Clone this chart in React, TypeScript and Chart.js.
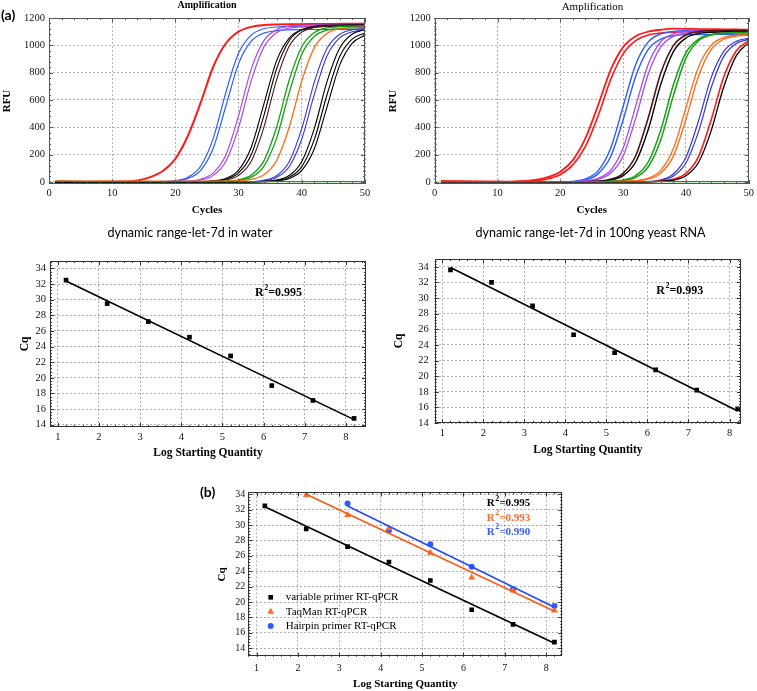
import React, { useEffect, useRef } from 'react';
import { Chart, registerables } from 'chart.js';

Chart.register(...registerables);

const SERIF = '"Liberation Serif", "Times New Roman", serif';
const SANS = 'Lato, "Open Sans", sans-serif';

// ---------- amplification data (RFU read at these cycles) ----------
const CYCLES = [1, 6, 12, 14, 16, 18, 20, 22, 24, 26, 28, 30, 32, 34, 36, 38, 40, 42, 44, 46, 48, 50];
const CYCLE_TICKS = [0, 10, 20, 30, 40, 50];
const RFU_TICKS = [0, 200, 400, 600, 800, 1000, 1200];
const LOG_TICKS = [1, 2, 3, 4, 5, 6, 7, 8];
const CQ_TICKS = [14, 16, 18, 20, 22, 24, 26, 28, 30, 32, 34];

// let-7d in water
const W_RED = [4, 2, 3, 10, 35, 80, 170, 340, 580, 845, 1015, 1100, 1135, 1148, 1153, 1155, 1155, 1156, 1156, 1157, 1157, 1157];
const W_BLUE_A = [-3, -3, -2, -1, 1, 4, 10, 35, 115, 321, 658, 943, 1075, 1121, 1134, 1139, 1140, 1140, 1141, 1141, 1142, 1142];
const W_BLUE_B = [-4, -4, -3, -2, 0, 2, 7, 26, 85, 249, 558, 866, 1030, 1089, 1107, 1113, 1115, 1116, 1116, 1117, 1117, 1118];
const W_PURPLE_A = [2, 1, 1, 1, 1, 1, 2, 6, 20, 66, 199, 486, 826, 1034, 1114, 1140, 1147, 1149, 1150, 1150, 1151, 1151];
const W_PURPLE_B = [1, 0, 0, 0, 0, 1, 1, 4, 14, 48, 152, 398, 742, 988, 1092, 1126, 1135, 1139, 1140, 1140, 1141, 1141];
const W_DARK_A = [0, 0, 0, 0, 0, 0, 0, 1, 2, 8, 26, 87, 254, 570, 886, 1053, 1114, 1132, 1138, 1140, 1140, 1140];
const W_DARK_B = [0, 0, 0, 0, 0, 0, 0, 1, 2, 6, 20, 66, 199, 486, 826, 1034, 1114, 1140, 1147, 1149, 1150, 1150];
const W_MAROON = [0, 0, 0, 0, 0, 0, 0, 0, 1, 4, 14, 48, 152, 400, 745, 993, 1097, 1131, 1140, 1144, 1145, 1145];
const W_GREEN_A = [2, 2, 2, 2, 2, 2, 2, 2, 2, 3, 6, 16, 50, 154, 400, 744, 990, 1094, 1128, 1137, 1141, 1142];
const W_GREEN_B = [1, 1, 1, 1, 1, 1, 1, 1, 1, 2, 3, 10, 35, 114, 319, 652, 935, 1066, 1111, 1124, 1128, 1130];
const W_ORANGE = [6, 5, 5, 5, 5, 5, 5, 5, 5, 5, 6, 9, 19, 52, 155, 400, 740, 985, 1088, 1122, 1131, 1134];
const W_INDIGO_A = [-3, -3, -3, -3, -3, -3, -3, -3, -3, -3, -2, 0, 2, 12, 45, 148, 392, 734, 978, 1081, 1114, 1123];
const W_INDIGO_B = [-2, -2, -2, -2, -2, -2, -2, -2, -2, -2, -2, -1, 1, 8, 33, 111, 314, 644, 924, 1054, 1099, 1112];
const W_LATE_A = [0, 0, 0, 0, 0, 0, 0, 0, 0, 0, 0, 0, 1, 4, 14, 47, 150, 394, 736, 980, 1083, 1116];
const W_LATE_B = [0, 0, 0, 0, 0, 0, 0, 0, 0, 0, 0, 0, 0, 3, 10, 34, 112, 313, 640, 918, 1047, 1091];
const W_LATE_C = [0, 0, 0, 0, 0, 0, 0, 0, 0, 0, 0, 0, 0, 2, 7, 25, 84, 245, 550, 855, 1016, 1075];
const W_NTC = [4, 3, 3, 3, 3, 3, 3, 3, 3, 3, 3, 3, 3, 3, 3, 3, 3, 3, 3, 3, 3, 3];

// let-7d in 100ng yeast RNA
const Y_RED_A = [8, 4, 3, 6, 15, 35, 75, 160, 320, 560, 819, 987, 1067, 1100, 1114, 1122, 1121, 1119, 1118, 1117, 1116, 1115];
const Y_RED_B = [6, 3, 2, 4, 8, 22, 55, 125, 260, 482, 747, 937, 1034, 1075, 1090, 1096, 1099, 1100, 1100, 1100, 1100, 1100];
const Y_BLUE_A = [-3, -3, -3, -3, -3, -2, -1, 4, 23, 81, 245, 552, 860, 1025, 1084, 1102, 1108, 1110, 1110, 1111, 1111, 1111];
const Y_BLUE_B = [-4, -4, -4, -4, -4, -3, -2, 2, 15, 59, 184, 454, 773, 970, 1046, 1070, 1077, 1079, 1080, 1080, 1080, 1080];
const Y_PURPLE_A = [2, 1, 1, 1, 1, 1, 1, 2, 7, 26, 84, 248, 555, 862, 1026, 1084, 1102, 1108, 1110, 1110, 1110, 1110];
const Y_PURPLE_B = [1, 1, 1, 1, 1, 1, 1, 1, 5, 19, 63, 190, 465, 790, 989, 1066, 1090, 1097, 1100, 1100, 1100, 1100];
const Y_MAROON = [0, 0, 0, 0, 0, 0, 0, 0, 2, 6, 19, 63, 192, 470, 797, 998, 1076, 1100, 1107, 1109, 1110, 1110];
const Y_DARK = [0, 0, 0, 0, 0, 0, 0, 0, 1, 4, 14, 46, 146, 384, 716, 954, 1054, 1087, 1096, 1099, 1100, 1100];
const Y_GREEN_A = [1, 1, 1, 1, 1, 1, 1, 1, 1, 2, 5, 15, 47, 146, 381, 711, 946, 1045, 1078, 1087, 1090, 1091];
const Y_GREEN_B = [1, 1, 1, 1, 1, 1, 1, 1, 1, 1, 3, 10, 34, 111, 309, 632, 906, 1033, 1076, 1090, 1094, 1095];
const Y_ORANGE_A = [4, 3, 3, 3, 3, 3, 3, 3, 3, 3, 3, 5, 10, 28, 85, 244, 543, 842, 1000, 1057, 1074, 1080];
const Y_ORANGE_B = [3, 3, 3, 3, 3, 3, 3, 3, 3, 3, 3, 4, 8, 21, 64, 189, 458, 774, 968, 1044, 1067, 1075];
const Y_INDIGO_A = [-3, -3, -3, -3, -3, -3, -3, -3, -3, -3, -3, -3, -2, 2, 15, 58, 181, 447, 762, 954, 1029, 1052];
const Y_INDIGO_B = [-2, -2, -2, -2, -2, -2, -2, -2, -2, -2, -2, -2, -1, 2, 11, 43, 139, 368, 688, 917, 1013, 1045];
const Y_LATE_RED = [2, 2, 2, 2, 2, 2, 2, 2, 2, 2, 2, 2, 2, 2, 7, 20, 63, 186, 452, 767, 959, 1034];
const Y_LATE_BLACK = [0, 0, 0, 0, 0, 0, 0, 0, 0, 0, 0, 0, 0, 1, 4, 13, 45, 142, 372, 693, 923, 1020];
const Y_NTC = [3, 2, 2, 2, 2, 2, 2, 2, 2, 2, 2, 2, 2, 2, 2, 2, 2, 2, 2, 2, 2, 2];

// ---------- standard curves ----------
const LOG_QTY = [1.2, 2.2, 3.2, 4.2, 5.2, 6.2, 7.2, 8.2];
const CQ_WATER = [32.5, 29.5, 27.2, 25.2, 22.8, 19.0, 17.1, 14.8];
const CQ_YEAST = [33.6, 32.0, 29.0, 25.3, 23.0, 20.8, 18.2, 15.8];
const LOG_QTY_TAQMAN = [2.2, 3.2, 4.2, 5.2, 6.2, 7.2, 8.2];
const CQ_TAQMAN = [33.9, 31.3, 29.6, 26.4, 23.2, 21.5, 18.9];
const LOG_QTY_HAIRPIN = [3.2, 4.2, 5.2, 6.2, 7.2, 8.2];
const CQ_HAIRPIN = [32.8, 29.3, 27.5, 24.6, 21.7, 19.5];
const R2_WATER = '0.995';
const R2_YEAST = '0.993';
const R2_COMPARE = ['0.995', '0.993', '0.990'];
const SERIES_NAMES = ['variable primer RT-qPCR', 'TaqMan RT-qPCR', 'Hairpin primer RT-qPCR'];

const C_RED = '#ff1a1a';
const C_BLUE = '#2a5cff';
const C_PURPLE = '#a84ae6';
const C_MAROON = '#561418';
const C_GREEN = '#16a016';
const C_ORANGE = '#ff6a14';
const C_INDIGO = '#3636d8';
const C_BLACK = '#000000';

const toPts = (xs: number[], ys: number[]) => xs.map((x, i) => ({ x, y: ys[i] }));

function fitLine(xs: number[], ys: number[]) {
  const n = xs.length;
  const mx = xs.reduce((a, b) => a + b, 0) / n;
  const my = ys.reduce((a, b) => a + b, 0) / n;
  let sxy = 0;
  let sxx = 0;
  for (let i = 0; i < n; i++) {
    sxy += (xs[i] - mx) * (ys[i] - my);
    sxx += (xs[i] - mx) * (xs[i] - mx);
  }
  const k = sxy / sxx;
  const b = my - k * mx;
  return [
    { x: xs[0], y: b + k * xs[0] },
    { x: xs[n - 1], y: b + k * xs[n - 1] },
  ];
}

type Item = { text?: string; x: number; y: number; font?: string; color?: string; align?: CanvasTextAlign; r2?: string; size?: number };

function textPlugin(items: Item[]) {
  return {
    id: 'texts',
    afterDraw(chart: any) {
      const ctx = chart.ctx as CanvasRenderingContext2D;
      items.forEach((it) => {
        ctx.save();
        ctx.fillStyle = it.color || '#000';
        ctx.textBaseline = 'middle';
        if (it.r2 !== undefined) {
          const size = it.size || 12;
          const base = `bold ${size}px ${SERIF}`;
          const sup = `bold ${Math.round(size * 0.7)}px ${SERIF}`;
          let x = it.x;
          ctx.textAlign = 'left';
          ctx.font = base;
          ctx.fillText('R', x, it.y);
          x += ctx.measureText('R').width;
          ctx.font = sup;
          ctx.fillText('2', x + 0.5, it.y - size * 0.42);
          x += ctx.measureText('2').width + 0.5;
          ctx.font = base;
          ctx.fillText('=' + it.r2, x, it.y);
        } else {
          ctx.font = it.font || `12px ${SERIF}`;
          ctx.textAlign = it.align || 'left';
          ctx.fillText(it.text || '', it.x, it.y);
        }
        ctx.restore();
      });
    },
  };
}

type FrameOpts = { xMajor: number; xMinor: number; yMajor: number; yMinor: number; color: string; major: number; minor: number };

function framePlugin(f: FrameOpts) {
  return {
    id: 'frame',
    afterDatasetsDraw(chart: any) {
      const { ctx, chartArea: a, scales } = chart;
      const xs = scales.x;
      const ys = scales.y;
      ctx.save();
      ctx.strokeStyle = f.color;
      ctx.lineWidth = 1;
      ctx.setLineDash([]);
      ctx.beginPath();
      const tick = (scale: any, step: number, len: number, horizontal: boolean) => {
        const i0 = Math.ceil(scale.min / step - 1e-9);
        const i1 = Math.floor(scale.max / step + 1e-9);
        for (let i = i0; i <= i1; i++) {
          const p = Math.round(scale.getPixelForValue(i * step)) + 0.5;
          if (horizontal) {
            ctx.moveTo(p, a.bottom);
            ctx.lineTo(p, a.bottom - len);
            ctx.moveTo(p, a.top);
            ctx.lineTo(p, a.top + len);
          } else {
            ctx.moveTo(a.left, p);
            ctx.lineTo(a.left + len, p);
            ctx.moveTo(a.right, p);
            ctx.lineTo(a.right - len, p);
          }
        }
      };
      tick(xs, f.xMinor, f.minor, true);
      tick(xs, f.xMajor, f.major, true);
      tick(ys, f.yMinor, f.minor, false);
      tick(ys, f.yMajor, f.major, false);
      ctx.stroke();
      ctx.strokeRect(Math.round(a.left) + 0.5, Math.round(a.top) + 0.5, Math.round(a.right - a.left) - 1, Math.round(a.bottom - a.top) - 1);
      ctx.restore();
    },
  };
}

function drawMarker(ctx: CanvasRenderingContext2D, style: string, x: number, y: number, r: number, color: string) {
  ctx.save();
  ctx.fillStyle = color;
  ctx.beginPath();
  if (style === 'rect') {
    const s = Math.SQRT1_2 * r;
    ctx.rect(x - s, y - s, 2 * s, 2 * s);
  } else if (style === 'triangle') {
    let rad = 0;
    ctx.moveTo(x + Math.sin(rad) * r, y - Math.cos(rad) * r);
    rad += (2 * Math.PI) / 3;
    ctx.lineTo(x + Math.sin(rad) * r, y - Math.cos(rad) * r);
    rad += (2 * Math.PI) / 3;
    ctx.lineTo(x + Math.sin(rad) * r, y - Math.cos(rad) * r);
    ctx.closePath();
  } else {
    ctx.arc(x, y, r, 0, Math.PI * 2);
  }
  ctx.fill();
  ctx.restore();
}

function legendPlugin(pos: { x: number; textX: number; y0: number; dy: number; font: string }) {
  return {
    id: 'ptlegend',
    afterDraw(chart: any) {
      const ctx = chart.ctx as CanvasRenderingContext2D;
      const sets = chart.data.datasets.filter((d: any) => d.showLine === false);
      sets.forEach((d: any, i: number) => {
        const y = pos.y0 + i * pos.dy;
        drawMarker(ctx, d.pointStyle, pos.x, y, d.pointRadius, d.backgroundColor);
        ctx.save();
        ctx.font = pos.font;
        ctx.fillStyle = '#000';
        ctx.textBaseline = 'middle';
        ctx.textAlign = 'left';
        ctx.fillText(d.label, pos.textX, y);
        ctx.restore();
      });
    },
  };
}

type AxisOpts = {
  xMin: number; xMax: number; xTicks: number[]; yMin: number; yMax: number; yTicks: number[];
  xH: number; yW: number; xTickPad: number; yTickPad: number;
  xTitle: string; yTitle: string; xTitlePad: number; yTitlePad: number;
  titleSize: number; tickSize: number;
};

function makeScales(o: AxisOpts) {
  const tickFont = { family: SERIF, size: o.tickSize };
  const titleFont = { family: SERIF, size: o.titleSize, weight: 'bold' as const, lineHeight: 1.2 };
  const grid = { color: 'rgba(0,0,0,0.3)', drawTicks: false, lineWidth: 1 };
  const border = { display: false, dash: [2, 2] };
  const fmt = (v: any) => String(v);
  return {
    x: {
      type: 'linear' as const,
      position: 'bottom' as const,
      min: o.xMin,
      max: o.xMax,
      afterFit: (s: any) => { s.height = o.xH; },
      afterBuildTicks: (s: any) => { s.ticks = o.xTicks.map((v) => ({ value: v })); },
      ticks: { padding: o.xTickPad, color: '#151515', font: tickFont, maxRotation: 0, autoSkip: false, callback: fmt },
      grid,
      border,
      title: { display: true, text: o.xTitle, color: '#000', font: titleFont, padding: { top: 0, bottom: o.xTitlePad } },
    },
    y: {
      type: 'linear' as const,
      position: 'left' as const,
      min: o.yMin,
      max: o.yMax,
      afterFit: (s: any) => { s.width = o.yW; },
      afterBuildTicks: (s: any) => { s.ticks = o.yTicks.map((v) => ({ value: v })); },
      ticks: { padding: o.yTickPad, color: '#151515', font: tickFont, autoSkip: false, callback: fmt },
      grid,
      border,
      title: { display: true, text: o.yTitle, color: '#000', font: titleFont, padding: { top: o.yTitlePad, bottom: 0 } },
    },
  };
}

const baseOptions = (padding: any, scales: any) => ({
  responsive: false,
  animation: false as const,
  events: [] as any[],
  layout: { padding },
  plugins: { legend: { display: false }, tooltip: { enabled: false }, title: { display: false } },
  scales,
});

type Curve = { data: number[]; color: string; width: number };

function ampDatasets(curves: Curve[]) {
  return curves.map((c) => ({
    data: toPts(CYCLES, c.data),
    borderColor: c.color,
    backgroundColor: c.color,
    borderWidth: c.width,
    pointRadius: 0,
    fill: false,
    cubicInterpolationMode: 'monotone' as const,
  }));
}

const WATER_CURVES: Curve[] = [
  { data: W_NTC, color: C_GREEN, width: 1.2 },
  { data: W_LATE_C, color: C_BLACK, width: 1.1 },
  { data: W_LATE_B, color: C_BLACK, width: 1.1 },
  { data: W_LATE_A, color: C_BLACK, width: 1.1 },
  { data: W_INDIGO_B, color: C_INDIGO, width: 1.1 },
  { data: W_INDIGO_A, color: C_INDIGO, width: 1.1 },
  { data: W_ORANGE, color: C_ORANGE, width: 1.3 },
  { data: W_GREEN_B, color: C_GREEN, width: 1.3 },
  { data: W_GREEN_A, color: C_GREEN, width: 1.3 },
  { data: W_MAROON, color: C_MAROON, width: 1.1 },
  { data: W_DARK_B, color: C_BLACK, width: 1.1 },
  { data: W_DARK_A, color: C_BLACK, width: 1.1 },
  { data: W_PURPLE_B, color: C_PURPLE, width: 1.2 },
  { data: W_PURPLE_A, color: C_PURPLE, width: 1.2 },
  { data: W_BLUE_B, color: C_BLUE, width: 1.2 },
  { data: W_BLUE_A, color: C_BLUE, width: 1.2 },
  { data: W_RED, color: C_RED, width: 2 },
];

const YEAST_CURVES: Curve[] = [
  { data: Y_NTC, color: C_GREEN, width: 1.2 },
  { data: Y_LATE_BLACK, color: C_BLACK, width: 1.3 },
  { data: Y_LATE_RED, color: C_RED, width: 1.6 },
  { data: Y_INDIGO_B, color: C_INDIGO, width: 1.2 },
  { data: Y_INDIGO_A, color: C_INDIGO, width: 1.2 },
  { data: Y_ORANGE_B, color: C_ORANGE, width: 1.3 },
  { data: Y_ORANGE_A, color: C_ORANGE, width: 1.3 },
  { data: Y_GREEN_B, color: C_GREEN, width: 1.5 },
  { data: Y_GREEN_A, color: C_GREEN, width: 1.5 },
  { data: Y_DARK, color: C_BLACK, width: 1.4 },
  { data: Y_MAROON, color: C_MAROON, width: 1.6 },
  { data: Y_PURPLE_B, color: C_PURPLE, width: 1.3 },
  { data: Y_PURPLE_A, color: C_PURPLE, width: 1.3 },
  { data: Y_BLUE_B, color: C_BLUE, width: 1.4 },
  { data: Y_BLUE_A, color: C_BLUE, width: 1.4 },
  { data: Y_RED_B, color: C_RED, width: 1.6 },
  { data: Y_RED_A, color: C_RED, width: 1.8 },
];

const ampFrame: FrameOpts = { xMajor: 10, xMinor: 2, yMajor: 200, yMinor: 40, color: '#555', major: 4, minor: 2 };
const stdFrame: FrameOpts = { xMajor: 1, xMinor: 0.2, yMajor: 2, yMinor: 0.4, color: '#333', major: 4, minor: 2 };

function configA() {
  return {
    type: 'line' as const,
    data: { datasets: ampDatasets(WATER_CURVES) },
    options: baseOptions({ left: 0, top: 18, right: 10, bottom: 0 }, makeScales({
      xMin: 0, xMax: 50, xTicks: CYCLE_TICKS, yMin: -15, yMax: 1200, yTicks: RFU_TICKS,
      xH: 38, yW: 49, xTickPad: 3, yTickPad: 4, xTitle: 'Cycles', yTitle: 'RFU',
      xTitlePad: 5, yTitlePad: 1, titleSize: 11, tickSize: 10.5,
    })),
    plugins: [framePlugin(ampFrame), textPlugin([
      { text: '(a)', x: 1, y: 15.5, font: `bold 14px ${SANS}` },
      { text: 'Amplification', x: 207, y: 5.5, font: `bold 10px ${SERIF}`, align: 'center' },
    ])],
  };
}

function configB() {
  return {
    type: 'line' as const,
    data: { datasets: ampDatasets(YEAST_CURVES) },
    options: baseOptions({ left: 0, top: 18, right: 6.7, bottom: 0 }, makeScales({
      xMin: 0, xMax: 50, xTicks: CYCLE_TICKS, yMin: -15, yMax: 1200, yTicks: RFU_TICKS,
      xH: 38, yW: 56.7, xTickPad: 3, yTickPad: 4, xTitle: 'Cycles', yTitle: 'RFU',
      xTitlePad: 5, yTitlePad: 8.4, titleSize: 11, tickSize: 10.5,
    })),
    plugins: [framePlugin(ampFrame), textPlugin([
      { text: 'Amplification', x: 214.5, y: 7.5, font: `11px ${SERIF}`, align: 'center' },
    ])],
  };
}

function stdPoints(label: string, xs: number[], ys: number[], color: string, style: string, r: number) {
  return {
    label,
    data: toPts(xs, ys),
    showLine: false,
    pointStyle: style,
    pointRadius: r,
    pointBorderWidth: 0,
    backgroundColor: color,
    borderColor: color,
  };
}

function stdLine(xs: number[], ys: number[], color: string) {
  return {
    label: '',
    data: fitLine(xs, ys),
    showLine: true,
    borderColor: color,
    backgroundColor: color,
    borderWidth: 1.6,
    pointRadius: 0,
  };
}

function configC() {
  return {
    type: 'line' as const,
    data: {
      datasets: [
        stdLine(LOG_QTY, CQ_WATER, C_BLACK),
        stdPoints('let-7d in water', LOG_QTY, CQ_WATER, C_BLACK, 'rect', 3.3),
      ],
    },
    options: baseOptions({ left: 0, top: 46, right: 14, bottom: 0 }, makeScales({
      xMin: 0.81, xMax: 8.49, xTicks: LOG_TICKS, yMin: 13.7, yMax: 34.95, yTicks: CQ_TICKS,
      xH: 33, yW: 50, xTickPad: 4, yTickPad: 4, xTitle: 'Log Starting Quantity', yTitle: 'Cq',
      xTitlePad: 0.5, yTitlePad: 18, titleSize: 11.5, tickSize: 10.5,
    })),
    plugins: [framePlugin(stdFrame), textPlugin([
      { text: 'dynamic range-let-7d in water', x: 190, y: 18, font: `12.5px ${SANS}`, align: 'center' },
      { r2: R2_WATER, x: 255, y: 78, size: 12 },
    ])],
  };
}

function configD() {
  return {
    type: 'line' as const,
    data: {
      datasets: [
        stdLine(LOG_QTY, CQ_YEAST, C_BLACK),
        stdPoints('let-7d in 100ng yeast RNA', LOG_QTY, CQ_YEAST, C_BLACK, 'rect', 3.3),
      ],
    },
    options: baseOptions({ left: 0, top: 44, right: 16, bottom: 0 }, makeScales({
      xMin: 0.815, xMax: 8.28, xTicks: LOG_TICKS, yMin: 14, yMax: 35, yTicks: CQ_TICKS,
      xH: 37, yW: 56.7, xTickPad: 3.5, yTickPad: 6, xTitle: 'Log Starting Quantity', yTitle: 'Cq',
      xTitlePad: 3, yTitlePad: 14.5, titleSize: 11.5, tickSize: 10.5,
    })),
    plugins: [framePlugin(stdFrame), textPlugin([
      { text: 'dynamic range-let-7d in 100ng yeast RNA', x: 212.5, y: 17.7, font: `12.5px ${SANS}`, align: 'center' },
      { r2: R2_YEAST, x: 278.3, y: 75.7, size: 12 },
    ])],
  };
}

function configE() {
  return {
    type: 'line' as const,
    data: {
      datasets: [
        stdLine(LOG_QTY, CQ_WATER, C_BLACK),
        stdLine(LOG_QTY_TAQMAN, CQ_TAQMAN, '#ff5a14'),
        stdLine(LOG_QTY_HAIRPIN, CQ_HAIRPIN, '#2449ff'),
        stdPoints(SERIES_NAMES[0], LOG_QTY, CQ_WATER, C_BLACK, 'rect', 3.3),
        stdPoints(SERIES_NAMES[1], LOG_QTY_TAQMAN, CQ_TAQMAN, '#ff6a2a', 'triangle', 4),
        stdPoints(SERIES_NAMES[2], LOG_QTY_HAIRPIN, CQ_HAIRPIN, '#2f5bff', 'circle', 3),
      ],
    },
    options: baseOptions({ left: 0, top: 30.3, right: 27.7, bottom: 0 }, makeScales({
      xMin: 0.8, xMax: 8.39, xTicks: LOG_TICKS, yMin: 12.9, yMax: 34.26, yTicks: CQ_TICKS,
      xH: 34.3, yW: 58.3, xTickPad: 6, yTickPad: 3, xTitle: 'Log Starting Quantity', yTitle: 'Cq',
      xTitlePad: 0.4, yTitlePad: 25.8, titleSize: 11, tickSize: 10,
    })),
    plugins: [framePlugin(stdFrame), legendPlugin({ x: 80.7, textX: 95.7, y0: 135.3, dy: 14.4, font: `11px ${SERIF}` }), textPlugin([
      { text: '(b)', x: 10, y: 30, font: `bold 14px ${SANS}` },
      { r2: R2_COMPARE[0], x: 296.7, y: 41.3, size: 11, color: '#000' },
      { r2: R2_COMPARE[1], x: 296.7, y: 55.8, size: 11, color: '#ff6a28' },
      { r2: R2_COMPARE[2], x: 296.7, y: 70, size: 11, color: '#3a5aff' },
    ])],
  };
}

function ChartBox({ left, top, width, height, make }: { left: number; top: number; width: number; height: number; make: () => any }) {
  const ref = useRef<HTMLCanvasElement>(null);
  useEffect(() => {
    const chart = new Chart(ref.current as HTMLCanvasElement, make());
    return () => chart.destroy();
  }, []);
  return (
    <canvas
      ref={ref}
      width={width}
      height={height}
      style={{ position: 'absolute', left, top, width, height, display: 'block' }}
    />
  );
}

export default function App() {
  return (
    <div style={{ position: 'absolute', left: 0, top: 0, width: 757, height: 691, background: '#fff', overflow: 'hidden' }}>
      <ChartBox left={0} top={0} width={375} height={222} make={configA} />
      <ChartBox left={378} top={0} width={379} height={222} make={configB} />
      <ChartBox left={0} top={215} width={380} height={245} make={configC} />
      <ChartBox left={378} top={215} width={379} height={245} make={configD} />
      <ChartBox left={190} top={462} width={400} height={229} make={configE} />
    </div>
  );
}
